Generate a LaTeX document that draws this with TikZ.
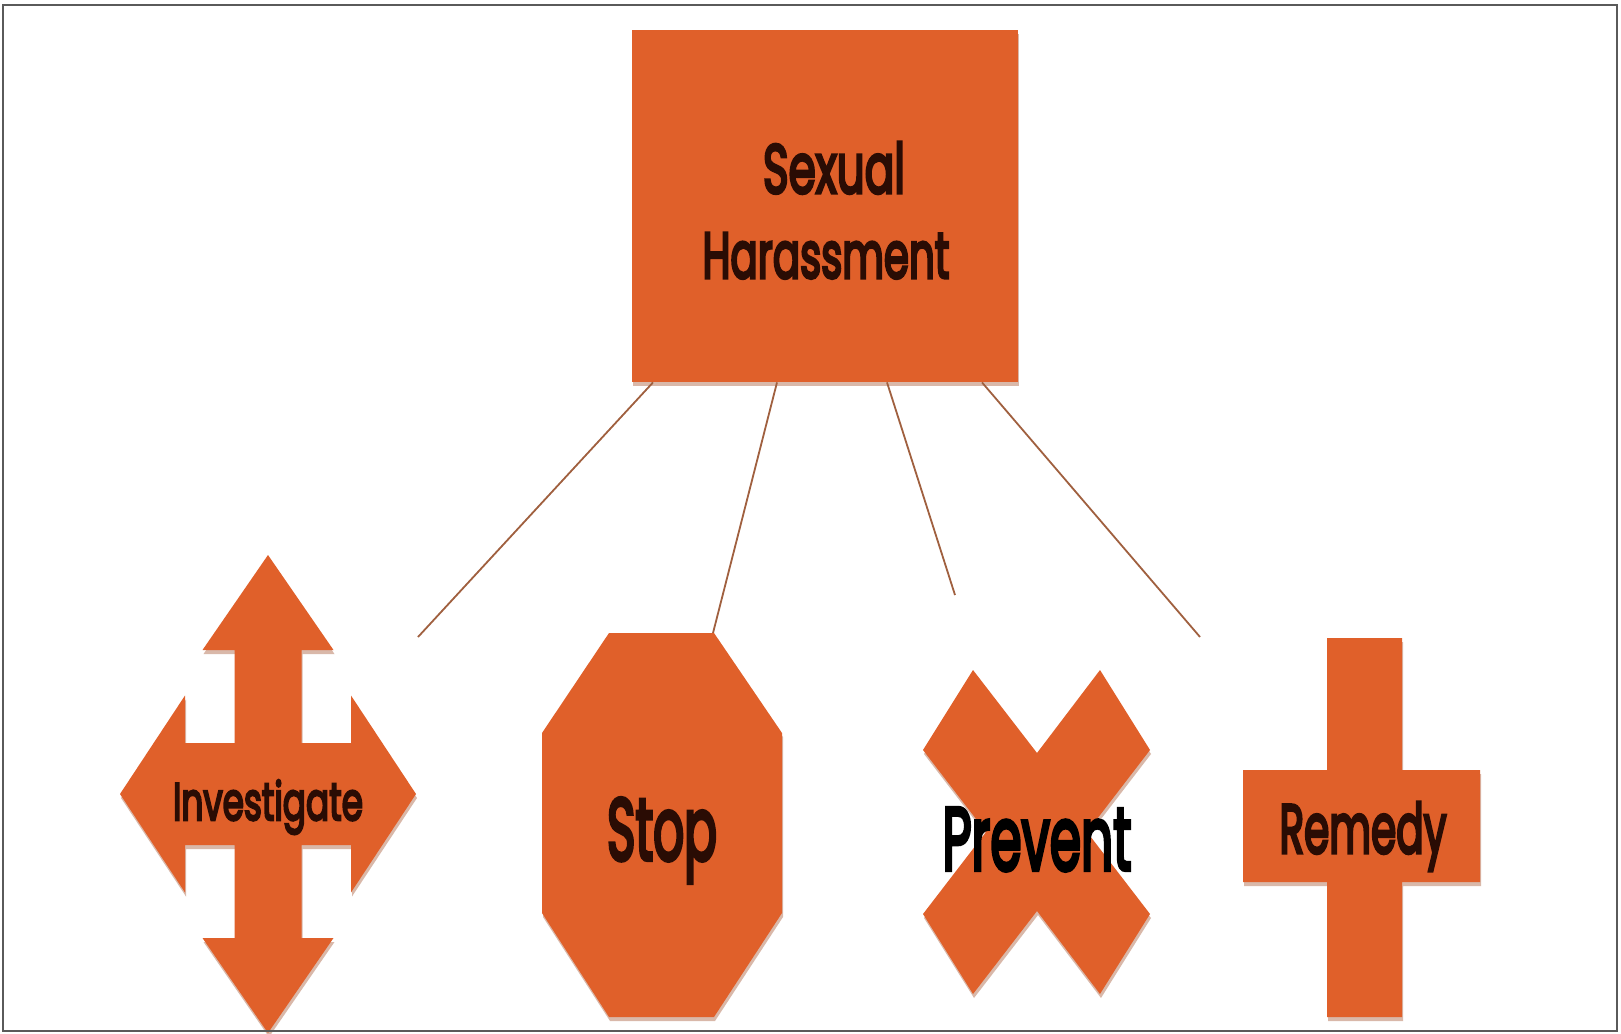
\documentclass[tikz,border=0pt]{standalone}
\usepackage{fontspec}
\setmainfont{Poppins}
\newfontfamily\lblfont{Poppins}[FakeBold=5]
\usepackage{graphicx}
\definecolor{shapeor}{HTML}{E0602A}
\definecolor{shadowc}{HTML}{C99A85}
\definecolor{linec}{HTML}{A0603F}
\definecolor{txtc}{HTML}{2A0C04}
\definecolor{framec}{HTML}{5A5A5A}
\tikzset{
  shapefill/.style={fill=shapeor, draw=none},
  shadowfill/.style={fill=shadowc, draw=none, opacity=0.7},
  conn/.style={draw=linec, line width=1.8pt},
  lbl/.style={inner sep=0pt, outer sep=0pt, anchor=base, text=txtc, font=\lblfont},
}
\begin{document}
\begin{tikzpicture}[x=1pt,y=-1pt]
\useasboundingbox (0,0) rectangle (1621,1033);
\fill[white] (0,0) rectangle (1621,1033);

% free ends of the connectors
\coordinate (e1) at (418,637);
\coordinate (e2) at (713,633);
\coordinate (e3) at (955,595);
\coordinate (e4) at (1200,637);

% top box shadow + box
\fill[shadowfill] (633,34) rectangle (1019,386);
\node[shapefill, minimum width=386pt, minimum height=352pt, inner sep=0pt, anchor=north west] (sh) at (632,30) {};
\draw[conn] ([xshift=21pt]sh.south west) -- (e1);
\draw[conn] ([xshift=145pt]sh.south west) -- (e2);
\draw[conn] ([xshift=255pt]sh.south west) -- (e3);
\draw[conn] ([xshift=350pt]sh.south west) -- (e4);
\node[lbl] (t1) at (834,193) {\resizebox{142pt}{51pt}{Sexual}};
\node[lbl] (t2) at (826,278) {\resizebox{247pt}{45pt}{Harassment}};

% Investigate: four-way arrow
\def\quadarrow{(268,555) -- (333.5,650) -- (301.5,650) -- (301.5,743) -- (351,743) -- (351,695.5) -- (416,794) -- (351,892.5) -- (351,845) -- (301.5,845) -- (301.5,938) -- (333.5,938) -- (268,1033) -- (202.5,938) -- (234.5,938) -- (234.5,845) -- (185,845) -- (185,892.5) -- (120,794) -- (185,695.5) -- (185,743) -- (234.5,743) -- (234.5,650) -- (202.5,650) -- cycle}
\begin{scope}[shift={(1,4)}]
\fill[shadowfill] \quadarrow;
\end{scope}
\fill[shapefill] \quadarrow;
\node[lbl] (inv) at (268,820) {\resizebox{190pt}{40pt}{Investigate}};

% Stop: octagon
\def\octo{(609,633) -- (714,633) -- (782,733) -- (782,913) -- (714,1017) -- (609,1017) -- (542,913) -- (542,733) -- cycle}
\begin{scope}[shift={(1,4)}]
\fill[shadowfill] \octo;
\end{scope}
\fill[shapefill] \octo;
\node[lbl] (stop) at (662,860) {\resizebox{110pt}{62pt}{Stop}};

% Prevent: multiplication sign
\def\xsign{(973,670) -- (1037,753) -- (1100,670) -- (1150,750) -- (1087,832) -- (1150,914) -- (1100,994) -- (1037,911) -- (973,994) -- (923,914) -- (986,832) -- (923,750) -- cycle}
\begin{scope}[shift={(1,4)}]
\fill[shadowfill] \xsign;
\end{scope}
\fill[shapefill] \xsign;
\node[lbl, text=black] (prev) at (1037,870) {\resizebox{189pt}{62pt}{Prevent}};

% Remedy: cross
\def\plussign{(1327,638) -- (1402,638) -- (1402,770) -- (1480,770) -- (1480,882) -- (1402,882) -- (1402,1017) -- (1327,1017) -- (1327,882) -- (1243,882) -- (1243,770) -- (1327,770) -- cycle}
\begin{scope}[shift={(1,4)}]
\fill[shadowfill] \plussign;
\end{scope}
\fill[shapefill] \plussign;
\node[lbl] (rem) at (1363,853) {\resizebox{167pt}{51pt}{Remedy}};

% frame
\draw[framec, line width=2pt] (3,5) rectangle (1617,1031);
\end{tikzpicture}
\end{document}
